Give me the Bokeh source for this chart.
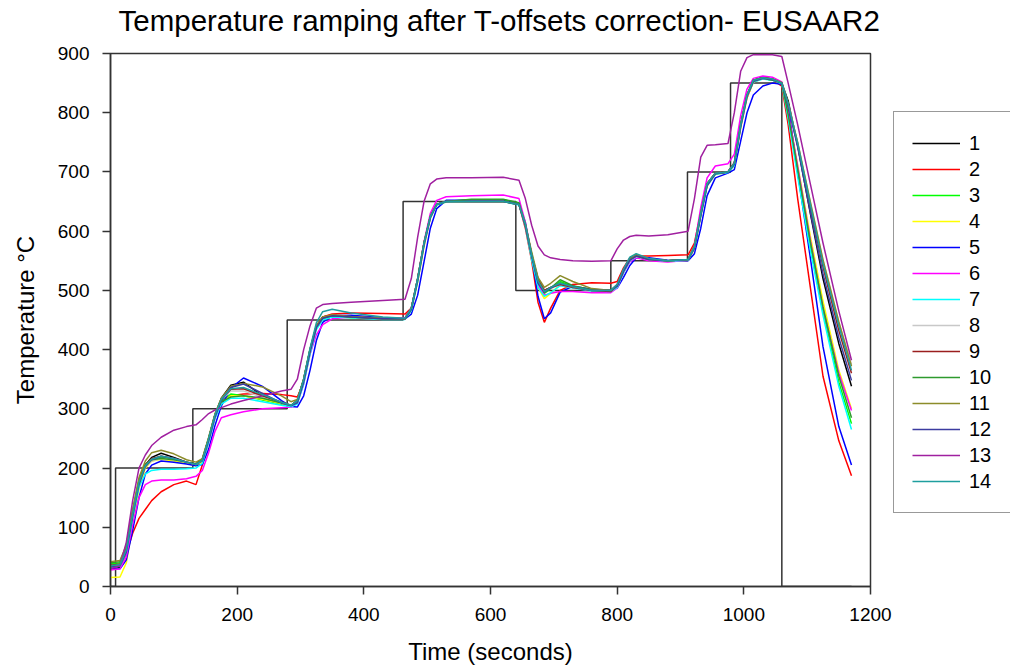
from bokeh.plotting import figure
from bokeh.models import Legend, LegendItem, Range1d, FixedTicker, Title
from bokeh.layouts import row
from bokeh.embed import file_html
from bokeh.resources import INLINE

time_s = [0, 15, 25, 35, 45, 55, 65, 80, 100, 120,
          135, 145, 155, 165, 175, 190, 210, 240, 270, 285,
          295, 305, 315, 325, 335, 350, 380, 430, 465, 475,
          485, 495, 505, 515, 530, 570, 620, 645, 655, 665,
          675, 685, 695, 710, 730, 760, 790, 800, 810, 820,
          830, 850, 880, 912, 922, 932, 942, 955, 975, 985,
          995, 1005, 1015, 1030, 1045, 1060, 1070, 1085, 1105, 1125,
          1150, 1170]

s1 = [30, 32, 60, 120, 175, 205, 218, 225, 218, 210,
      207, 215, 250, 290, 318, 340, 345, 322, 308, 305,
      315, 350, 400, 440, 455, 458, 455, 452, 453, 470,
      520, 580, 625, 645, 650, 650, 650, 645, 610, 560,
      520, 500, 505, 512, 505, 500, 500, 510, 535, 552,
      558, 552, 550, 552, 575, 630, 680, 698, 700, 715,
      780, 830, 855, 860, 857, 850, 820, 745, 630, 520,
      410, 338]
s2 = [35, 36, 55, 90, 115, 130, 145, 160, 172, 178,
      172, 205, 245, 285, 312, 322, 325, 326, 324, 322,
      320, 345, 395, 438, 455, 460, 462, 461, 460, 470,
      515, 575, 622, 645, 650, 652, 652, 645, 605, 550,
      480, 446, 470, 500, 510, 513, 512, 515, 538, 555,
      558, 558, 559, 560, 580, 632, 680, 697, 700, 712,
      775, 825, 852, 858, 856, 845, 780, 655, 505, 355,
      246, 187]
s3 = [38, 40, 65, 125, 178, 205, 215, 218, 214, 208,
      205, 212, 248, 288, 312, 325, 322, 315, 308, 305,
      312, 348, 398, 438, 452, 456, 454, 452, 452, 468,
      518, 578, 624, 645, 650, 653, 653, 647, 612, 562,
      515, 495, 503, 515, 507, 500, 500, 508, 532, 552,
      560, 553, 550, 552, 572, 628, 678, 697, 700, 713,
      778, 828, 853, 858, 855, 850, 795, 700, 575, 465,
      345, 275]
s4 = [15, 16, 40, 105, 165, 200, 212, 215, 212, 208,
      204, 210, 246, 286, 310, 322, 322, 316, 309, 305,
      310, 344, 394, 436, 452, 457, 455, 452, 452, 466,
      515, 575, 622, 644, 649, 650, 650, 645, 612, 556,
      505, 486, 495, 510, 506, 500, 499, 506, 530, 550,
      557, 552, 549, 551, 570, 625, 676, 696, 699, 711,
      775, 826, 852, 858, 856, 850, 800, 712, 592, 482,
      365, 300]
s5 = [30, 30, 45, 95, 150, 190, 205, 212, 210, 207,
      204, 206, 232, 272, 305, 335, 352, 338, 314, 304,
      303, 322, 365, 415, 446, 457, 458, 454, 452, 460,
      492, 548, 605, 638, 652, 652, 651, 646, 615, 560,
      490, 452, 462, 497, 507, 502, 500, 504, 522, 542,
      555, 555, 551, 550, 562, 605, 660, 690, 698, 704,
      752, 800, 830, 845, 850, 848, 810, 700, 555, 405,
      270, 205]
s6 = [28, 30, 50, 105, 150, 172, 178, 180, 180, 182,
      186, 196, 226, 262, 285, 290, 295, 300, 302, 303,
      310, 342, 392, 425, 442, 452, 455, 453, 454, 470,
      520, 582, 630, 652, 658, 660, 661, 655, 615, 560,
      510, 492, 495, 498, 498, 496, 496, 504, 530, 548,
      555, 550, 548, 551, 575, 640, 690, 710, 714, 730,
      795, 840, 858, 862, 860, 852, 800, 710, 585, 470,
      360, 297]
s7 = [32, 34, 58, 115, 168, 190, 196, 198, 198, 199,
      200, 208, 244, 284, 308, 318, 318, 312, 306, 304,
      308, 342, 392, 434, 450, 455, 454, 451, 451, 466,
      515, 576, 622, 644, 649, 650, 650, 644, 608, 552,
      505, 490, 496, 508, 504, 499, 498, 505, 530, 550,
      557, 552, 549, 551, 572, 626, 676, 696, 699, 711,
      776, 827, 852, 857, 855, 849, 790, 692, 568, 458,
      338, 265]
s8 = [34, 36, 62, 122, 176, 203, 212, 216, 214, 210,
      206, 213, 250, 290, 315, 330, 330, 320, 310, 306,
      313, 348, 398, 438, 453, 457, 455, 452, 452, 469,
      518, 579, 624, 645, 650, 650, 650, 645, 612, 562,
      518, 500, 503, 510, 505, 500, 500, 508, 533, 551,
      557, 552, 550, 552, 573, 628, 678, 697, 700, 714,
      778, 828, 853, 858, 856, 850, 815, 750, 648, 550,
      445, 375]
s9 = [36, 38, 64, 124, 178, 206, 216, 220, 216, 210,
      206, 214, 250, 290, 316, 333, 334, 322, 311, 306,
      314, 350, 400, 440, 454, 458, 455, 452, 452, 470,
      520, 580, 625, 645, 650, 650, 650, 645, 610, 560,
      518, 500, 505, 510, 505, 500, 498, 508, 534, 552,
      558, 552, 550, 552, 574, 630, 680, 698, 700, 716,
      780, 830, 855, 859, 857, 850, 812, 745, 640, 540,
      432, 360]
s10 = [40, 42, 68, 128, 180, 206, 214, 216, 214, 210,
       207, 214, 250, 290, 312, 320, 322, 318, 310, 306,
       313, 348, 398, 438, 453, 457, 455, 452, 452, 468,
       518, 578, 624, 645, 650, 654, 654, 648, 612, 560,
       515, 496, 504, 518, 508, 501, 500, 508, 533, 552,
       560, 553, 550, 552, 573, 628, 678, 697, 700, 713,
       778, 828, 853, 858, 855, 850, 797, 705, 582, 472,
       355, 285]
s11 = [42, 44, 70, 130, 184, 212, 226, 230, 224, 214,
       210, 216, 252, 292, 318, 338, 343, 337, 322, 312,
       316, 350, 400, 440, 455, 459, 456, 453, 452, 470,
       520, 580, 625, 645, 650, 650, 650, 645, 612, 565,
       522, 505, 512, 525, 515, 503, 500, 508, 533, 552,
       560, 553, 550, 552, 574, 630, 680, 698, 700, 715,
       780, 830, 855, 859, 857, 851, 815, 750, 650, 552,
       447, 372]
s12 = [33, 35, 58, 118, 172, 202, 214, 220, 216, 210,
       206, 212, 246, 286, 314, 336, 342, 326, 310, 305,
       310, 345, 396, 437, 453, 457, 455, 452, 452, 468,
       518, 578, 623, 645, 650, 650, 650, 645, 610, 558,
       512, 497, 504, 512, 506, 500, 500, 507, 532, 551,
       558, 552, 550, 552, 571, 626, 677, 697, 700, 713,
       777, 828, 853, 858, 856, 850, 812, 742, 632, 528,
       420, 348]
s13 = [30, 35, 75, 145, 200, 222, 238, 252, 264, 270,
       273, 282, 292, 298, 302, 308, 314, 322, 330, 333,
       350, 400, 440, 470, 476, 478, 480, 483, 485, 520,
       590, 650, 680, 688, 690, 690, 691, 686, 655, 610,
       575, 560, 555, 552, 550, 549, 550, 570, 585, 591,
       593, 592, 594, 600, 655, 725, 745, 746, 748, 800,
       870, 893, 898, 898, 898, 895, 850, 780, 680, 580,
       465, 382]
s14 = [35, 37, 62, 122, 176, 204, 215, 220, 216, 210,
       206, 213, 250, 290, 316, 334, 336, 324, 311, 306,
       314, 350, 402, 445, 464, 468, 462, 455, 453, 470,
       520, 580, 625, 645, 650, 650, 650, 645, 612, 560,
       516, 498, 505, 512, 506, 500, 500, 510, 536, 556,
       562, 554, 550, 552, 574, 630, 680, 698, 700, 715,
       780, 830, 855, 859, 857, 850, 815, 748, 645, 545,
       440, 365]

series = [s1, s2, s3, s4, s5, s6, s7, s8, s9, s10, s11, s12, s13, s14]
names = [str(i) for i in range(1, 15)]
colors = ["#000000", "#FF0000", "#00FF00", "#FFFF00", "#0000FF", "#FF00FF",
          "#00FFFF", "#C8C8C8", "#9A1E1E", "#2E9A2E", "#8C8C2A", "#3C3CA0",
          "#A020A0", "#1E9E9E"]

step_t = [0, 8, 8, 130, 130, 279, 279, 462, 462, 640, 640, 790, 790,
          911, 911, 979, 979, 1060, 1060, 1170]
step_v = [0, 0, 200, 200, 300, 300, 450, 450, 650, 650, 500, 500, 550,
          550, 700, 700, 850, 850, 0, 0]

x_ticks = [0, 200, 400, 600, 800, 1000, 1200]
y_ticks = [0, 100, 200, 300, 400, 500, 600, 700, 800, 900]

TITLE = "Temperature ramping after T-offsets correction- EUSAAR2"
FONT = "Liberation Sans"
H = 668

# ---- main plot ----
p = figure(width=892, height=H, output_backend="svg", toolbar_location=None,
           x_range=Range1d(0, 1200), y_range=Range1d(0, 900), title=None)
p.min_border_left = 110
p.min_border_right = 22
p.min_border_top = 53
p.min_border_bottom = 82

# spacer between frame and title, then the title itself
p.add_layout(Title(text=" ", text_font_size="1px", standoff=14), "above")
p.add_layout(Title(text=TITLE, align="left", offset=8, standoff=0,
                   text_font=FONT, text_font_size="29.5px",
                   text_font_style="normal", text_color="#000000"), "above")

p.xgrid.grid_line_color = None
p.ygrid.grid_line_color = None
p.outline_line_color = "#333333"
p.outline_line_width = 1.5

for ax in (p.xaxis[0], p.yaxis[0]):
    ax.axis_line_color = "#333333"
    ax.axis_line_width = 1.5
    ax.major_tick_line_color = "#333333"
    ax.major_tick_line_width = 1.5
    ax.major_tick_out = 8
    ax.major_tick_in = 0
    ax.minor_tick_line_color = None
    ax.major_label_text_font = FONT
    ax.major_label_text_font_size = "19px"
    ax.major_label_text_color = "#000000"
    ax.axis_label_text_font = FONT
    ax.axis_label_text_font_size = "24px"
    ax.axis_label_text_font_style = "normal"
    ax.axis_label_text_color = "#000000"

p.xaxis[0].ticker = FixedTicker(ticks=x_ticks)
p.yaxis[0].ticker = FixedTicker(ticks=y_ticks)
p.xaxis[0].axis_label = "Time (seconds)"
p.yaxis[0].axis_label = "Temperature °C"
p.xaxis[0].major_label_standoff = 13
p.yaxis[0].major_label_standoff = 13
p.xaxis[0].axis_label_standoff = 14
p.yaxis[0].axis_label_standoff = 16

p.line(step_t, step_v, line_color="#333333", line_width=1.5)
for col, ys in zip(colors, series):
    p.line(time_s, ys, line_color=col, line_width=1.5)

# ---- legend panel (right of the plot; its frame aligns with the plot frame) ----
q = figure(width=1010 - 892, height=H, output_backend="svg", toolbar_location=None,
           x_range=Range1d(0, 1), y_range=Range1d(0, 1),
           x_axis_location=None, y_axis_location=None)
q.min_border_left = 0
q.min_border_right = 0
q.min_border_top = 0
q.min_border_bottom = 0
q.outline_line_color = None
q.xgrid.grid_line_color = None
q.ygrid.grid_line_color = None

items = []
for name, col, ys in zip(names, colors, series):
    # same series, but outside this panel's ranges: only the legend glyph shows
    r = q.line(time_s, ys, line_color=col, line_width=1.5)
    items.append(LegendItem(label=name, renderers=[r]))

legend = Legend(items=items, location=(1, 73))
legend.border_line_color = "#333333"
legend.border_line_width = 1.5
legend.background_fill_color = "white"
legend.background_fill_alpha = 1.0
legend.label_text_font = FONT
legend.label_text_font_size = "20px"
legend.label_text_color = "#000000"
legend.glyph_width = 48
legend.glyph_height = 26
legend.label_height = 26
legend.label_width = 40
legend.label_standoff = 9
legend.spacing = 0
legend.padding = 18
legend.margin = 0
q.add_layout(legend, "center")

layout = row(p, q)
open("out.html", "w").write(file_html(layout, INLINE))
